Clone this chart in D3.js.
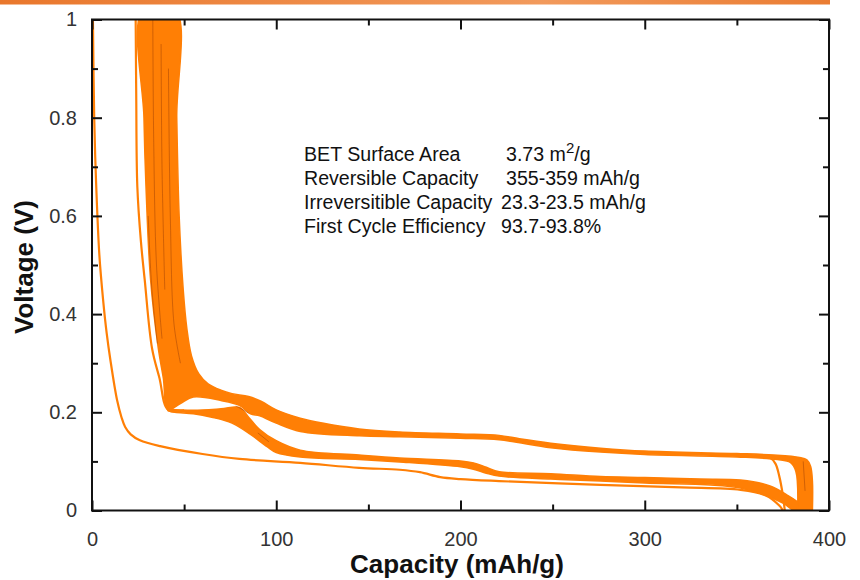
<!DOCTYPE html>
<html>
<head>
    <meta charset='utf-8'/>
    <title>Capacity vs Voltage</title>
    <style>
        body { margin: 0; background: #fff; }
        .tick text { font-family: Arial, "Liberation Sans", sans-serif; fill: #333; }
        .note { font-family: Arial, "Liberation Sans", sans-serif; fill: #111; font-size: 19.6px; }
        .title { font-family: Arial, "Liberation Sans", sans-serif; font-weight: bold; fill: #111; font-size: 26px; }
    </style>
</head>
<body>
<div id="chart"></div>

<script src="https://d3js.org/d3.v7.min.js"></script>
<script type="text/javascript">

    // axis ticks
    var xTicks = [0, 100, 200, 300, 400],
        xMinor = [50, 150, 250, 350],
        yTicks = [0, 0.2, 0.4, 0.6, 0.8, 1],
        yMinor = [0.1, 0.3, 0.5, 0.7, 0.9];

    // text box
    var noteLabels = ["BET Surface Area", "Reversible Capacity", "Irreversitible Capacity", "First Cycle Efficiency"],
        noteValues = ["3.73 m", "355-359 mAh/g", "23.3-23.5 mAh/g", "93.7-93.8%"];

    // [capacity mAh/g, voltage V]
    var firstDischarge = [[0.5, 1], [1.2, 0.8], [2.2, 0.67], [4, 0.52], [6, 0.43], [8, 0.36], [10, 0.306], [13.6, 0.225],
        [16, 0.19], [18, 0.17], [21, 0.155], [26, 0.143], [37, 0.131], [60, 0.115], [80, 0.105], [113, 0.097],
        [145, 0.087], [167, 0.083], [178, 0.078], [189, 0.068], [200, 0.064], [221, 0.06], [276, 0.052],
        [320, 0.047], [352, 0.042], [366, 0.03], [373, 0.01], [375, 0]];

    var firstCharge = [[376, 0], [375, 0.03], [373, 0.07], [371, 0.095], [368, 0.108], [360, 0.113]];

    var secondDischarge = [[23.7, 1], [24, 0.85], [24.6, 0.66], [26.5, 0.55], [28.6, 0.47], [32.6, 0.33], [36.6, 0.27],
        [41.3, 0.205], [50, 0.204]];

    // envelope of the charge curves (upper plateau + steep rise)
    var chargeBand = [[391, 0], [391, 0.06], [390, 0.09], [388, 0.103], [384, 0.108], [370, 0.113], [350, 0.116],
        [300, 0.121], [276, 0.127], [249, 0.137], [232, 0.146], [221, 0.153], [200, 0.156], [167, 0.16],
        [145, 0.166], [125, 0.178], [113, 0.188], [100, 0.205], [92, 0.222], [85, 0.232], [76, 0.238],
        [70, 0.245], [63, 0.258], [58, 0.278], [54, 0.315], [51.5, 0.37], [49.5, 0.45], [47.3, 0.6], [46, 0.8],
        [45.3, 1.02], [27.6, 1.02], [28.2, 0.8], [29.3, 0.66], [31.8, 0.47], [36, 0.33], [38.7, 0.27],
        [41.3, 0.205], [48, 0.218], [55, 0.231], [70, 0.224], [80, 0.214], [86, 0.197], [91, 0.193],
        [100, 0.178], [113, 0.161], [145, 0.152], [167, 0.15], [200, 0.147], [221, 0.144], [249, 0.128],
        [276, 0.119], [300, 0.114], [350, 0.109], [372, 0.104], [379, 0.098], [382, 0.08], [383, 0]];

    // envelope of the later discharge curves (lower plateau)
    var dischargeBand = [[41.3, 0.206], [55, 0.204], [70, 0.207], [80, 0.21], [85, 0.19], [91, 0.165], [100, 0.142],
        [113, 0.123], [145, 0.113], [167, 0.107], [200, 0.101], [207, 0.097], [214, 0.088], [221, 0.079],
        [249, 0.075], [276, 0.069], [300, 0.067], [330, 0.064], [352, 0.062], [368, 0.05], [378, 0.03],
        [386, 0.01], [390, 0], [381, 0], [375, 0.015], [352, 0.046], [300, 0.056], [276, 0.06], [249, 0.064],
        [221, 0.07], [214, 0.076], [207, 0.084], [200, 0.089], [167, 0.099], [145, 0.104], [113, 0.109],
        [100, 0.118], [95, 0.13], [86, 0.155], [76, 0.178], [65, 0.19], [55, 0.197], [45, 0.2], [41.3, 0.203]];

    // darker streaks inside the bundles
    var streaks = [
        [[33, 1], [33.5, 0.75], [35, 0.5], [38, 0.35]],
        [[37.5, 0.95], [38, 0.7], [39.5, 0.45]],
        [[41.5, 0.9], [42.5, 0.6], [44.5, 0.38], [48, 0.3]],
        [[30.5, 0.6], [32.5, 0.45], [35.5, 0.34]],
        [[78, 0.213], [82, 0.205], [85, 0.198]],
        [[90, 0.158], [96, 0.14]],
        [[386, 0.1], [387, 0.04]]
    ];

    // dims
    var svg_dx = 860,
        svg_dy = 580,
        margin = {top: 19.5, right: 31, bottom: 69.5, left: 92};

    var x = d3.scaleLinear().domain([0, 400]).range([margin.left, svg_dx - margin.right]),
        y = d3.scaleLinear().domain([0, 1]).range([svg_dy - margin.bottom, margin.top]);

    var orange = "#ff7f05",
        dark = "#8a3306";

    var svg = d3.select("#chart")
        .append("svg")
        .attr("width", svg_dx)
        .attr("height", svg_dy);

    /* header bar */
    var grad = svg.append("defs").append("linearGradient")
        .attr("id", "bar");
    grad.append("stop").attr("offset", "0%").attr("stop-color", "#e9772c");
    grad.append("stop").attr("offset", "65%").attr("stop-color", "#f29a5c");
    grad.append("stop").attr("offset", "100%").attr("stop-color", "#ea7c32");
    svg.append("rect")
        .attr("x", 0).attr("y", 0)
        .attr("width", 830).attr("height", 4.5)
        .attr("fill", "url(#bar)");

    svg.select("defs").append("clipPath")
        .attr("id", "plot")
        .append("rect")
        .attr("x", x(0)).attr("y", y(1))
        .attr("width", x(400) - x(0)).attr("height", y(0) - y(1));

    var line = d3.line()
        .x(d => x(d[0]))
        .y(d => y(d[1]))
        .curve(d3.curveCatmullRom.alpha(0.5));

    var curves = svg.append("g")
        .attr("clip-path", "url(#plot)");

    curves.selectAll("path.band")
        .data([dischargeBand, chargeBand])
        .enter()
        .append("path")
        .attr("class", "band")
        .attr("d", d => line(d) + "Z")
        .attr("fill", orange)
        .attr("stroke", orange)
        .attr("stroke-width", 1.5)
        .attr("stroke-linejoin", "round");

    curves.selectAll("path.streak")
        .data(streaks)
        .enter()
        .append("path")
        .attr("class", "streak")
        .attr("d", line)
        .attr("fill", "none")
        .attr("stroke", dark)
        .attr("stroke-opacity", 0.4)
        .attr("stroke-width", 1);

    curves.selectAll("path.cycle")
        .data([firstDischarge, firstCharge, secondDischarge])
        .enter()
        .append("path")
        .attr("class", "cycle")
        .attr("d", line)
        .attr("fill", "none")
        .attr("stroke", orange)
        .attr("stroke-width", 2.2);

    /* axes: ticks point inwards on all four sides */
    function tickFont(g, size) {
        g.selectAll("text").style("font-size", size + "px");
        g.select(".domain").remove();
        g.selectAll("line").attr("stroke", "#111").attr("stroke-width", 2);
    }

    svg.append("g")
        .attr("transform", "translate(0," + y(0) + ")")
        .call(d3.axisBottom(x).tickValues(xTicks).tickSize(-10).tickPadding(21).tickFormat(d3.format("d")))
        .call(g => tickFont(g, 20));
    svg.append("g")
        .attr("transform", "translate(0," + y(0) + ")")
        .call(d3.axisBottom(x).tickValues(xMinor).tickSize(-6).tickFormat(""))
        .call(g => tickFont(g, 20));
    svg.append("g")
        .attr("transform", "translate(0," + y(1) + ")")
        .call(d3.axisTop(x).tickValues(xTicks).tickSize(-10).tickFormat(""))
        .call(g => tickFont(g, 20));
    svg.append("g")
        .attr("transform", "translate(0," + y(1) + ")")
        .call(d3.axisTop(x).tickValues(xMinor).tickSize(-6).tickFormat(""))
        .call(g => tickFont(g, 20));

    svg.append("g")
        .attr("transform", "translate(" + x(0) + ",0)")
        .call(d3.axisLeft(y).tickValues(yTicks).tickSize(-10).tickPadding(15).tickFormat(d => d))
        .call(g => tickFont(g, 20));
    svg.append("g")
        .attr("transform", "translate(" + x(0) + ",0)")
        .call(d3.axisLeft(y).tickValues(yMinor).tickSize(-6).tickFormat(""))
        .call(g => tickFont(g, 20));
    svg.append("g")
        .attr("transform", "translate(" + x(400) + ",0)")
        .call(d3.axisRight(y).tickValues(yTicks).tickSize(-10).tickFormat(""))
        .call(g => tickFont(g, 20));
    svg.append("g")
        .attr("transform", "translate(" + x(400) + ",0)")
        .call(d3.axisRight(y).tickValues(yMinor).tickSize(-6).tickFormat(""))
        .call(g => tickFont(g, 20));

    // frame
    svg.append("rect")
        .attr("x", x(0)).attr("y", y(1))
        .attr("width", x(400) - x(0)).attr("height", y(0) - y(1))
        .attr("fill", "none")
        .attr("stroke", "#111")
        .attr("stroke-width", 2);

    /* axis titles */
    svg.append("text")
        .attr("class", "title")
        .attr("x", 457)
        .attr("y", 573)
        .attr("text-anchor", "middle")
        .text("Capacity (mAh/g)");

    svg.append("text")
        .attr("class", "title")
        .attr("transform", "translate(33,267) rotate(-90)")
        .attr("text-anchor", "middle")
        .text("Voltage (V)");

    /* notes */
    var notes = svg.append("g");
    notes.selectAll("text.lab")
        .data(noteLabels)
        .enter()
        .append("text")
        .attr("class", "note lab")
        .attr("x", 304)
        .attr("y", (d, i) => 160.5 + i * 24.2)
        .text(d => d);

    var vals = notes.selectAll("text.val")
        .data(noteValues)
        .enter()
        .append("text")
        .attr("class", "note val")
        .attr("x", (d, i) => i < 2 ? 506 : 501)
        .attr("y", (d, i) => 160.5 + i * 24.2)
        .text(d => d);

    // m²/g on the first line
    var first = d3.select(vals.nodes()[0]);
    first.append("tspan").attr("dy", -8).style("font-size", "15px").text("2");
    first.append("tspan").attr("dy", 8).text("/g");

</script>

</body>
</html>
